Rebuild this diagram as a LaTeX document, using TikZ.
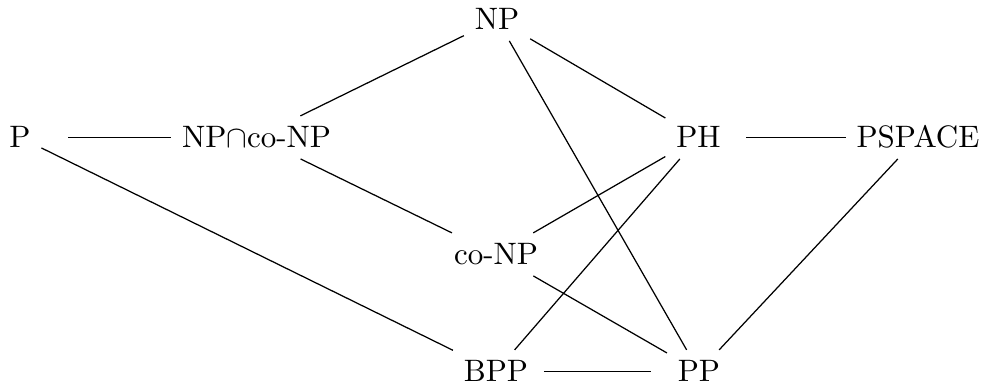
\documentclass[tikz,border=0pt]{standalone}
\begin{document}
\begin{tikzpicture}[x=0.3226pt,y=-0.3226pt,
  cls/.style={inner sep=3.33pt,text height=6.83pt,text depth=0pt},
  link/.style={line width=0.4pt}]
\useasboundingbox (0,0) rectangle (985,385);
\node[cls] (np)     at (497,19.4)  {NP};
\node[cls] (p)      at (20,137.4)  {P};
\node[cls] (npco)   at (256.5,137.4) {NP$\cap$co-NP};
\node[cls] (ph)     at (698.5,137.4) {PH};
\node[cls] (pspace) at (918,137.4) {PSPACE};
\node[cls] (conp)   at (496,254.4) {co-NP};
\node[cls] (bpp)    at (496,371.4) {BPP};
\node[cls] (pp)     at (699,371.4) {PP};
\draw[link,shorten <=8.7pt] (p) -- (npco);
\draw[link] (npco) -- (np);
\draw[link] (npco) -- (conp);
\draw[link] (np) -- (ph);
\draw[link] (np) -- (pp);
\draw[link,shorten <=4.8pt] (ph) -- (pspace);
\draw[link] (ph) -- (conp);
\draw[link] (ph) -- (bpp);
\draw[link] (p) -- (bpp);
\draw[link] (conp) -- (pp);
\draw[link,shorten <=1.6pt,shorten >=5pt] (bpp) -- (pp);
\draw[link] (pspace) -- (pp);
\end{tikzpicture}
\end{document}
